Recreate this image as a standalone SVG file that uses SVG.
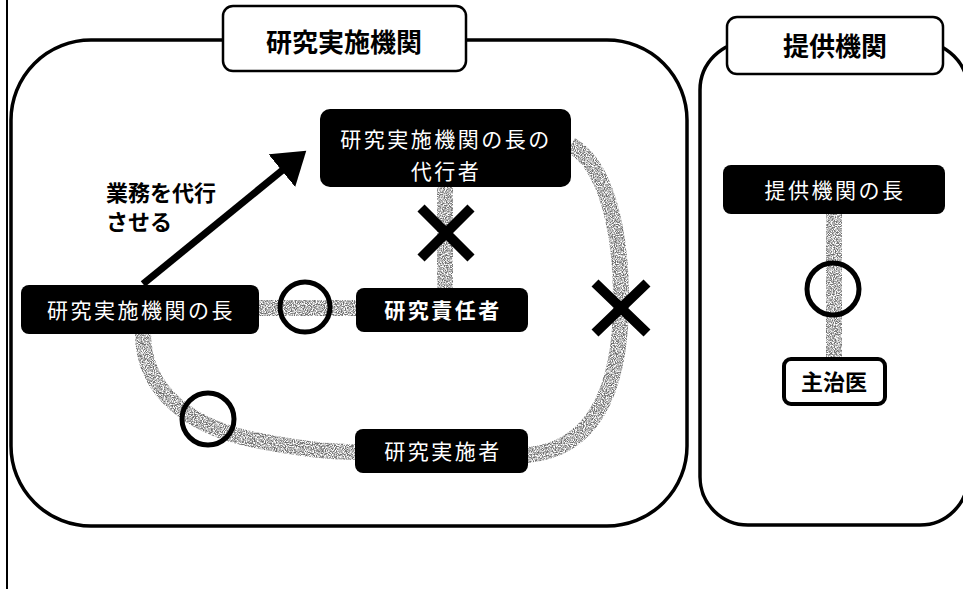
<svg xmlns="http://www.w3.org/2000/svg" width="963" height="589" viewBox="0 0 963 589">
<style>
.frame{fill:none;stroke:#000;stroke-width:3.5}
.tbox{fill:#fff;stroke:#000;stroke-width:2.5}
.title{font-family:"Noto Sans CJK JP","Noto Sans CJK SC",sans-serif;font-weight:bold;font-size:26px;fill:#000;text-anchor:middle}
.blk{fill:#000}
.wt{font-family:"Noto Sans CJK JP","Noto Sans CJK SC",sans-serif;font-size:21px;fill:#fff;text-anchor:middle;letter-spacing:2.5px}
.bt{font-family:"Noto Sans CJK JP","Noto Sans CJK SC",sans-serif;font-weight:bold;font-size:22px;fill:#000}
.link{fill:none;stroke:#6e6e6e;stroke-width:16;filter:url(#grain)}
.ok{fill:none;stroke:#000;stroke-width:5}
.ng{stroke:#000;stroke-width:10;fill:none}
</style>
<defs>
<filter id="grain" filterUnits="userSpaceOnUse" x="0" y="0" width="963" height="589">
<feTurbulence type="fractalNoise" baseFrequency="0.9" numOctaves="2" seed="3" result="n"/>
<feColorMatrix in="n" type="matrix" values="0 0 0 0 0  0 0 0 0 0  0 0 0 0 0  0 0 0 -3 2" result="a"/>
<feComposite in="SourceGraphic" in2="a" operator="in"/>
</filter>
<marker id="arr" markerWidth="6" markerHeight="6" refX="1.5" refY="3" orient="auto" markerUnits="strokeWidth">
<path d="M0,0 L4.5,3 L0,6 Z" fill="#000"/>
</marker>
</defs>
<rect width="963" height="589" fill="#fff"/>
<line x1="7" y1="0" x2="7" y2="589" stroke="#000" stroke-width="2"/>

<g id="org-research">
<rect class="frame" x="11" y="40" width="676" height="486" rx="80" ry="80"/>
<rect class="tbox" x="223" y="6" width="243" height="65" rx="10"/>
<text class="title" x="344" y="52">研究実施機関</text>
</g>
<g id="org-provider">
<rect class="frame" x="700" y="42" width="268" height="483" rx="48" ry="48"/>
<rect class="tbox" x="727" y="17" width="216" height="57" rx="10"/>
<text class="title" x="835" y="56">提供機関</text>
</g>

<g id="connectors">
<path class="link" d="M445,186 L445,288"/>
<path class="link" d="M258,308 L357,308"/>
<path class="link" d="M143,333 C143,395 195,428 255,440 C300,449 330,452 357,452"/>
<path class="link" d="M571,145 C606,165 621,230 621,300 C621,395 590,450 527,455"/>
<path class="link" d="M834,213 L834,359"/>
<line x1="143" y1="284" x2="290" y2="164" stroke="#000" stroke-width="7" marker-end="url(#arr)"/>
<circle class="ok" cx="305" cy="307" r="25"/>
<circle class="ok" cx="208" cy="419" r="26"/>
<circle class="ok" cx="833" cy="289" r="26"/>
<path class="ng" d="M421,208 L471,258 M471,208 L421,258"/>
<path class="ng" d="M595,283 L647,333 M647,283 L595,333"/>
</g>

<g id="label-delegate">
<text class="bt" x="106" y="201">業務を代行</text>
<text class="bt" x="106" y="230">させる</text>
</g>

<g id="node-deputy">
<rect class="blk" x="320" y="109" width="251" height="78" rx="10"/>
<text class="wt" x="446" y="147">研究実施機関の長の</text>
<text class="wt" x="446" y="179">代行者</text>
</g>
<g id="node-head">
<rect class="blk" x="21" y="285" width="238" height="49" rx="8"/>
<text class="wt" x="141" y="318">研究実施機関の長</text>
</g>
<g id="node-pi">
<rect class="blk" x="356" y="288" width="172" height="44" rx="8"/>
<text class="wt" x="443" y="318" font-weight="bold">研究責任者</text>
</g>
<g id="node-researcher">
<rect class="blk" x="355" y="429" width="173" height="44" rx="8"/>
<text class="wt" x="443" y="459">研究実施者</text>
</g>
<g id="node-provider-head">
<rect class="blk" x="723" y="165" width="222" height="49" rx="8"/>
<text class="wt" x="835" y="198">提供機関の長</text>
</g>
<g id="node-doctor">
<rect x="784" y="359" width="101" height="45" rx="7" fill="#fff" stroke="#000" stroke-width="4"/>
<text class="bt" x="834" y="390" text-anchor="middle" font-size="21">主治医</text>
</g>
</svg>
